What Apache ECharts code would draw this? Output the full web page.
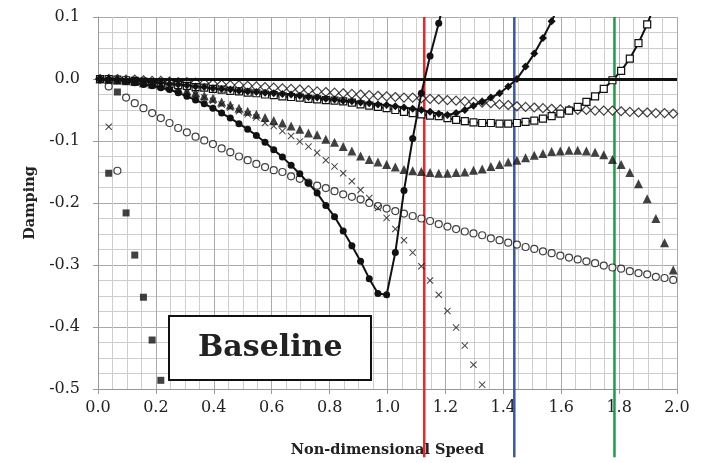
<!DOCTYPE html>
<html lang="en">
<head>
<meta charset="UTF-8" />
<title>Baseline damping</title>
<script src="https://cdnjs.cloudflare.com/ajax/libs/echarts/6.0.0/echarts.min.js"></script>
<style>
  html, body { margin: 0; padding: 0; background: #fff; }
  #main { width: 704px; height: 463px; }
</style>
</head>
<body>
<div id="main"></div>
<script>
// non-dimensional speed at each computed point
var speed = [
  0.007, 0.037, 0.067, 0.097, 0.127, 0.157, 0.187, 0.217, 0.247, 0.277,
  0.307, 0.337, 0.367, 0.397, 0.427, 0.457, 0.487, 0.517, 0.547, 0.577,
  0.607, 0.637, 0.667, 0.697, 0.727, 0.757, 0.787, 0.817, 0.847, 0.877,
  0.907, 0.937, 0.967, 0.997, 1.027, 1.057, 1.087, 1.117, 1.147, 1.177,
  1.207, 1.237, 1.267, 1.297, 1.327, 1.357, 1.387, 1.417, 1.447, 1.477,
  1.507, 1.537, 1.567, 1.597, 1.627, 1.657, 1.687, 1.717, 1.747, 1.777,
  1.807, 1.837, 1.867, 1.897, 1.927, 1.957, 1.987
];

// damping per mode (index matches speed)
var filledCircle = [
  0, -0.001, -0.002, -0.004, -0.006, -0.009, -0.011, -0.014, -0.017, -0.022,
  -0.028, -0.034, -0.040, -0.047, -0.055, -0.063, -0.072, -0.081, -0.091, -0.102,
  -0.114, -0.126, -0.139, -0.153, -0.168, -0.184, -0.204, -0.222, -0.245, -0.269,
  -0.294, -0.322, -0.346, -0.348, -0.280, -0.180, -0.096, -0.023, 0.037, 0.090,
  0.150
];
var filledDiamond = [
  0, 0, -0.001, -0.002, -0.003, -0.004, -0.005, -0.006, -0.008, -0.009,
  -0.010, -0.012, -0.013, -0.015, -0.016, -0.017, -0.019, -0.020, -0.021, -0.022,
  -0.023, -0.024, -0.025, -0.027, -0.029, -0.030, -0.032, -0.033, -0.035, -0.036,
  -0.038, -0.039, -0.041, -0.042, -0.044, -0.046, -0.048, -0.050, -0.053, -0.056,
  -0.058, -0.055, -0.050, -0.043, -0.037, -0.030, -0.023, -0.012, 0.000, 0.020,
  0.041, 0.066, 0.093, 0.125
];
var openSquare = [
  0, 0, -0.001, -0.002, -0.003, -0.004, -0.005, -0.007, -0.008, -0.010,
  -0.011, -0.013, -0.014, -0.016, -0.017, -0.019, -0.020, -0.022, -0.023, -0.025,
  -0.026, -0.028, -0.029, -0.030, -0.032, -0.033, -0.034, -0.035, -0.036, -0.038,
  -0.041, -0.043, -0.045, -0.047, -0.050, -0.053, -0.055, -0.057, -0.059, -0.060,
  -0.063, -0.066, -0.068, -0.070, -0.071, -0.071, -0.072, -0.072, -0.071, -0.069,
  -0.067, -0.064, -0.060, -0.056, -0.051, -0.045, -0.037, -0.028, -0.016, -0.002,
  0.013, 0.033, 0.058, 0.088, 0.125
];
var openDiamond = [
  0, 0, 0, -0.001, -0.001, -0.002, -0.003, -0.003, -0.004, -0.005,
  -0.005, -0.006, -0.007, -0.008, -0.009, -0.010, -0.010, -0.011, -0.012, -0.013,
  -0.014, -0.015, -0.016, -0.017, -0.018, -0.020, -0.021, -0.022, -0.023, -0.024,
  -0.025, -0.026, -0.027, -0.028, -0.029, -0.030, -0.030, -0.031, -0.032, -0.033,
  -0.034, -0.035, -0.036, -0.037, -0.038, -0.039, -0.041, -0.042, -0.044, -0.045,
  -0.046, -0.047, -0.048, -0.049, -0.050, -0.050, -0.050, -0.051, -0.051, -0.051,
  -0.052, -0.053, -0.054, -0.054, -0.055, -0.055, -0.056
];
var filledTriangle = [
  0, -0.001, -0.002, -0.003, -0.004, -0.006, -0.008, -0.010, -0.012, -0.015,
  -0.019, -0.022, -0.027, -0.031, -0.037, -0.042, -0.047, -0.052, -0.057, -0.062,
  -0.067, -0.071, -0.076, -0.081, -0.087, -0.090, -0.097, -0.102, -0.109, -0.116,
  -0.124, -0.130, -0.134, -0.138, -0.142, -0.146, -0.148, -0.149, -0.151, -0.152,
  -0.152, -0.151, -0.150, -0.147, -0.145, -0.141, -0.138, -0.134, -0.131, -0.127,
  -0.123, -0.120, -0.117, -0.116, -0.115, -0.115, -0.116, -0.118, -0.122, -0.130,
  -0.138, -0.151, -0.169, -0.193, -0.225, -0.264, -0.308
];
var crossMode = [
  0, -0.077, -0.002, -0.003, -0.005, -0.007, -0.009, -0.011, -0.014, -0.017,
  -0.021, -0.025, -0.030, -0.035, -0.041, -0.046, -0.052, -0.057, -0.062, -0.071,
  -0.076, -0.084, -0.092, -0.101, -0.109, -0.119, -0.131, -0.141, -0.152, -0.165,
  -0.179, -0.192, -0.208, -0.224, -0.242, -0.260, -0.280, -0.302, -0.325, -0.348,
  -0.374, -0.401, -0.430, -0.461, -0.493
];
var openCircle = [
  0, -0.012, -0.148, -0.030, -0.039, -0.047, -0.055, -0.063, -0.071, -0.079,
  -0.086, -0.093, -0.099, -0.105, -0.112, -0.118, -0.125, -0.131, -0.137, -0.142,
  -0.147, -0.150, -0.157, -0.161, -0.167, -0.172, -0.176, -0.181, -0.186, -0.190,
  -0.194, -0.200, -0.205, -0.209, -0.213, -0.217, -0.221, -0.225, -0.229, -0.234,
  -0.238, -0.242, -0.246, -0.249, -0.252, -0.257, -0.260, -0.264, -0.267, -0.271,
  -0.274, -0.278, -0.281, -0.285, -0.288, -0.291, -0.294, -0.297, -0.301, -0.304,
  -0.306, -0.310, -0.313, -0.315, -0.319, -0.321, -0.324
];
var filledSquare = [null, -0.152, -0.021, -0.216, -0.284, -0.352, -0.421, -0.486];

// flutter speeds marked by the coloured lines, drawn from the top of the plot
// down past the axis title
var flutterSpeeds = [1.127, 1.438, 1.784];
var flutterColors = ['#e8262b', '#3b56a8', '#1f9a4a'];
var flutterSpan = [0.1, -0.61];

function pairs(arr) {
  var out = [];
  for (var i = 0; i < arr.length; i++) {
    if (arr[i] !== null) out.push([speed[i], arr[i]]);
  }
  return out;
}

var crossPath = 'path://M0,1L1,0L5,4L9,0L10,1L6,5L10,9L9,10L5,6L1,10L0,9L4,5Z';
var serif = 'DejaVu Serif';

var flutterSeries = flutterSpeeds.map(function (s, i) {
  return {
    type: 'line',
    data: flutterSpan.map(function (d) { return [s, d]; }),
    symbol: 'none',
    clip: false,
    silent: true,
    z: 1,
    lineStyle: { color: flutterColors[i], width: 2.5 }
  };
});

var myChart = echarts.init(document.getElementById('main'));

var option = {
  animation: false,
  title: {
    text: 'Baseline',
    left: 169, top: 316,
    padding: [17, 29, 17, 29],
    backgroundColor: '#fff',
    borderColor: '#111',
    borderWidth: 2,
    z: 20,
    textStyle: { fontFamily: serif, fontWeight: 'bold', fontSize: 30, color: '#222' }
  },
  grid: { left: 98, right: 27, top: 17, bottom: 66 },
  xAxis: {
    type: 'value',
    min: 0, max: 2, interval: 0.2,
    name: 'Non-dimensional Speed',
    nameLocation: 'middle',
    nameGap: 54,
    nameTextStyle: { fontFamily: serif, fontWeight: 'bold', fontSize: 14.5, color: '#222' },
    axisLine: { onZero: false, lineStyle: { color: '#999', width: 1 } },
    axisTick: { show: true, length: 5, lineStyle: { color: '#999' } },
    axisLabel: {
      fontFamily: serif, fontSize: 16, color: '#222', margin: 11,
      formatter: function (v) { return v.toFixed(1); }
    },
    splitLine: { show: true, lineStyle: { color: '#aaaaaa', width: 1 } },
    minorTick: { show: false, splitNumber: 4 },
    minorSplitLine: { show: true, lineStyle: { color: '#cdcdcd', width: 1 } }
  },
  yAxis: {
    type: 'value',
    min: -0.5, max: 0.1, interval: 0.1,
    name: 'Damping',
    nameLocation: 'middle',
    nameGap: 60,
    nameTextStyle: { fontFamily: serif, fontWeight: 'bold', fontSize: 14.5, color: '#222' },
    axisLine: { show: true, onZero: false, lineStyle: { color: '#999', width: 1 } },
    axisTick: { show: true, length: 5, lineStyle: { color: '#999' } },
    axisLabel: {
      fontFamily: serif, fontSize: 16, color: '#222', margin: 18,
      formatter: function (v) { return v.toFixed(1); }
    },
    splitLine: { show: true, lineStyle: { color: '#aaaaaa', width: 1 } },
    minorTick: { show: false, splitNumber: 4 },
    minorSplitLine: { show: true, lineStyle: { color: '#cdcdcd', width: 1 } }
  },
  series: flutterSeries.concat([
    {
      name: 'open circles', type: 'scatter', data: pairs(openCircle),
      symbol: 'circle', symbolSize: 7, clip: false,
      itemStyle: { color: '#fff', borderColor: '#111', borderWidth: 1.2 },
      // zero damping line
      markLine: {
        silent: true,
        symbol: 'none',
        label: { show: false },
        lineStyle: { color: '#111', width: 3, type: 'solid' },
        data: [{ yAxis: 0 }]
      }
    },
    {
      name: 'filled squares', type: 'scatter', data: pairs(filledSquare),
      symbol: 'rect', symbolSize: 7, clip: false,
      itemStyle: { color: '#111' }
    },
    {
      name: 'crosses', type: 'scatter', data: pairs(crossMode),
      symbol: crossPath, symbolSize: 7,
      itemStyle: { color: '#111' }
    },
    {
      name: 'triangles', type: 'scatter', data: pairs(filledTriangle),
      symbol: 'triangle', symbolSize: 9, clip: false,
      itemStyle: { color: '#111' }
    },
    {
      name: 'open diamonds', type: 'scatter', data: pairs(openDiamond),
      symbol: 'diamond', symbolSize: 9, clip: false,
      itemStyle: { color: '#fff', borderColor: '#111', borderWidth: 1.2 }
    },
    {
      name: 'open squares', type: 'line', data: pairs(openSquare),
      symbol: 'rect', symbolSize: 7, showAllSymbol: true,
      lineStyle: { color: '#111', width: 2 },
      itemStyle: { color: '#fff', borderColor: '#111', borderWidth: 1.2 }
    },
    {
      name: 'filled diamonds', type: 'line', data: pairs(filledDiamond),
      symbol: 'diamond', symbolSize: 8, showAllSymbol: true,
      lineStyle: { color: '#111', width: 2 },
      itemStyle: { color: '#111' }
    },
    {
      name: 'filled circles', type: 'line', data: pairs(filledCircle),
      symbol: 'circle', symbolSize: 7, showAllSymbol: true,
      lineStyle: { color: '#111', width: 2 },
      itemStyle: { color: '#111' }
    }
  ])
};

myChart.setOption(option);
</script>
</body>
</html>
